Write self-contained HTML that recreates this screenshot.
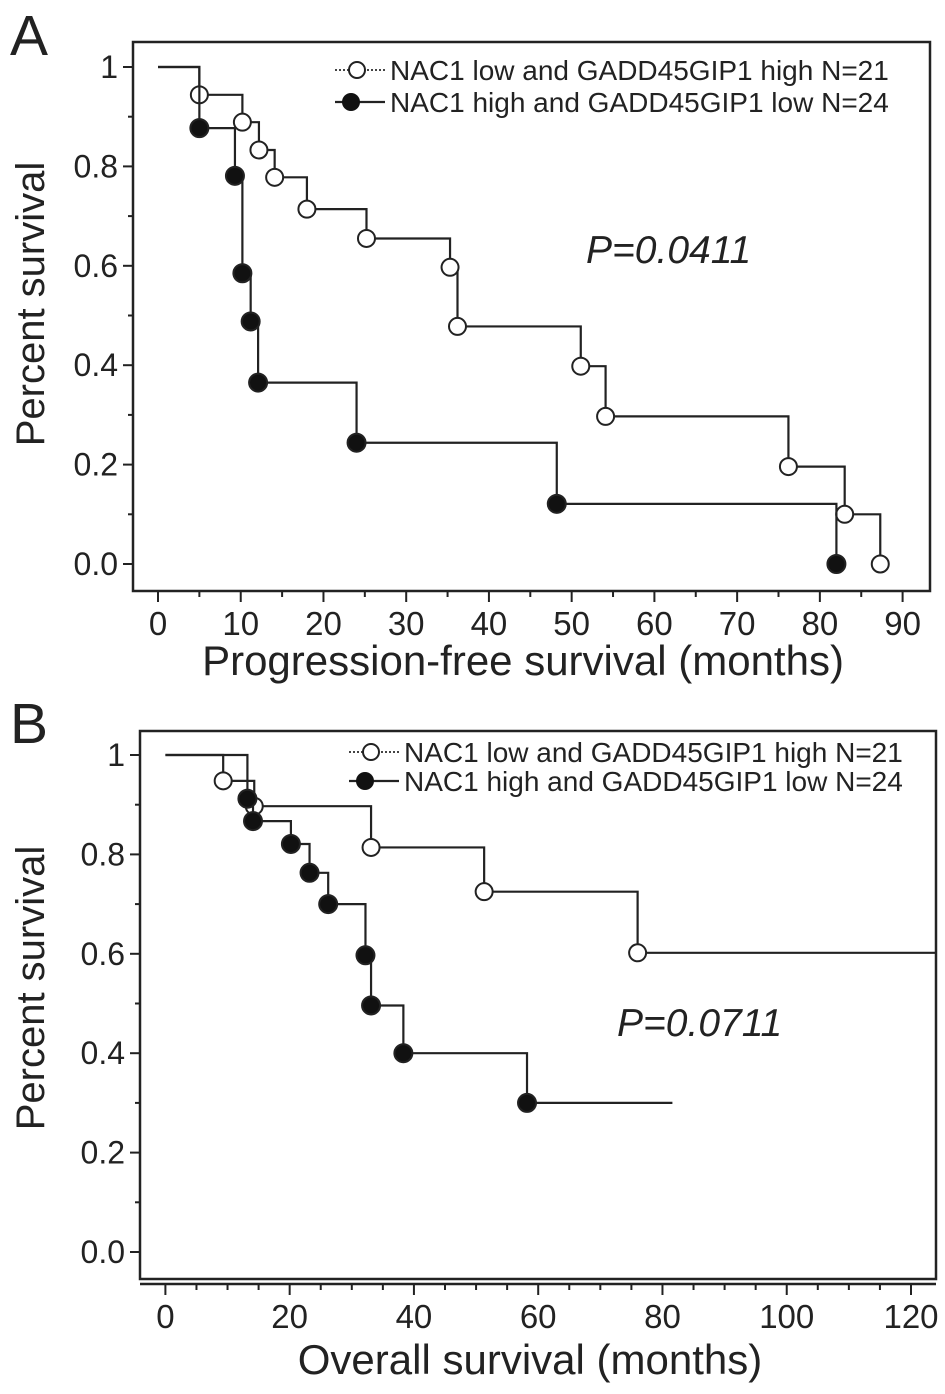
<!DOCTYPE html>
<html><head><meta charset="utf-8">
<style>
html,body{margin:0;padding:0;background:#fff;}
svg{display:block;}
text{font-family:"Liberation Sans",Arial,sans-serif;fill:#222;}
</style></head>
<body>
<svg id="fig" width="945" height="1394" viewBox="0 0 945 1394" xmlns="http://www.w3.org/2000/svg">
<text x="10" y="55" font-size="57">A</text>
<text x="10" y="743" font-size="57">B</text>
<g id="pa"></g>
<g id="pb"></g>
</svg>
<script>
// Panel A data (progression-free survival)
const aLowTimes = [5, 10.2, 12.2, 14.1, 18, 25.2, 35.3, 36.2, 51.1, 54.1, 76.2, 83, 87.3];
const aLowSurv  = [0.944, 0.889, 0.833, 0.778, 0.714, 0.655, 0.597, 0.478, 0.398, 0.297, 0.196, 0.1, 0];
const aHighTimes = [5, 9.3, 10.2, 11.2, 12.1, 24, 48.2, 82];
const aHighSurv  = [0.877, 0.781, 0.585, 0.488, 0.365, 0.244, 0.121, 0];
const aXTicks = [0,10,20,30,40,50,60,70,80,90];
// Panel B data (overall survival)
const bLowTimes = [9.3, 14.3, 33.1, 51.3, 76];
const bLowSurv  = [0.948, 0.897, 0.814, 0.725, 0.602];
const bLowEnd = 124;
const bHighTimes = [13.2, 14.1, 20.2, 23.2, 26.2, 32.2, 33.1, 38.3, 58.2];
const bHighSurv  = [0.912, 0.867, 0.821, 0.763, 0.7, 0.597, 0.496, 0.4, 0.3];
const bHighEnd = 81.6;
const bXTicks = [0,20,40,60,80,100,120];
const yTicks = [1, 0.8, 0.6, 0.4, 0.2, 0.0];
const yTickLabels = ["1","0.8","0.6","0.4","0.2","0.0"];

const NS="http://www.w3.org/2000/svg";
function mk(parent,tag,attrs,txt){const e=document.createElementNS(NS,tag);for(const k in attrs)e.setAttribute(k,attrs[k]);if(txt!==undefined)e.textContent=txt;parent.appendChild(e);return e;}

function panel(g,cfg){
  const X=v=>cfg.x0+v*(cfg.x1-cfg.x0)/cfg.xmax;
  const Y=v=>cfg.y0+(cfg.y1-cfg.y0)*v;
  let e=mk(g,'rect',{x:cfg.bl,y:cfg.bt,width:cfg.br-cfg.bl,height:cfg.bb-cfg.bt,fill:'none',stroke:'#222','stroke-width':2.5});
  
  if(cfg.axisY!==cfg.bb){e=mk(g,'line',{x1:cfg.bl,x2:cfg.br,y1:cfg.axisY,y2:cfg.axisY,stroke:'#222','stroke-width':2.5});
    }
  for(let i=0;i<=10;i++){const v=i/10;const major=i%2===0;
    e=mk(g,'line',{x1:cfg.bl-(major?10:5),x2:cfg.bl,y1:Y(v),y2:Y(v),stroke:'#222','stroke-width':2});
    }
  yTicks.forEach((v,i)=>{e=mk(g,'text',{x:cfg.bl-15,y:Y(v)+11,'font-size':32,'text-anchor':'end'},yTickLabels[i]);
    });
  for(let v=0;v<=cfg.xmax;v+=cfg.minor){const major=Math.abs(v/cfg.major-Math.round(v/cfg.major))<1e-6;
    if(X(v)>cfg.br)break;
    e=mk(g,'line',{x1:X(v),x2:X(v),y1:cfg.axisY,y2:cfg.axisY+(major?11:6),stroke:'#222','stroke-width':2});
    }
  cfg.xt.forEach(v=>{e=mk(g,'text',{x:X(v),y:cfg.axisY+44,'font-size':33,'text-anchor':'middle'},String(v));
    });
  e=mk(g,'text',{x:cfg.xtx,y:cfg.xty,'font-size':42,'text-anchor':'middle'},cfg.xtitle);
  
  e=mk(g,'text',{x:0,y:0,'font-size':40,'text-anchor':'middle',transform:`translate(44,${cfg.ytitleY}) rotate(-90)`},'Percent survival');
  
  function curve(times,surv,endT,filled,name){
    let d=`M${X(0)},${Y(1)}`;let prev=1;
    times.forEach((t,i)=>{d+=` L${X(t)},${Y(prev)} L${X(t)},${Y(surv[i])}`;prev=surv[i];});
    if(endT!==null)d+=` L${X(endT)},${Y(prev)}`;
    e=mk(g,'path',{d:d,fill:'none',stroke:'#222','stroke-width':2.2});
    
    times.forEach((t,i)=>{e=mk(g,'circle',{cx:X(t),cy:Y(surv[i]),r:filled?9:8.5,fill:filled?'#111':'#fff',stroke:'#222','stroke-width':2});
      });
  }
  curve(cfg.lowT,cfg.lowS,cfg.lowEnd,false,'low-nac1-curve');
  curve(cfg.highT,cfg.highS,cfg.highEnd,true,'high-nac1-curve');
  const lx=cfg.lx;
  e=mk(g,'line',{x1:lx,x2:lx+50,y1:cfg.ly1,y2:cfg.ly1,stroke:'#444','stroke-width':2,'stroke-dasharray':'2,2'});
  
  e=mk(g,'circle',{cx:lx+22,cy:cfg.ly1,r:8,fill:'#fff',stroke:'#222','stroke-width':2});
  
  e=mk(g,'text',{x:lx+55,y:cfg.ly1+10,'font-size':28},'NAC1 low and GADD45GIP1 high N=21');
  
  e=mk(g,'line',{x1:lx,x2:lx+50,y1:cfg.ly2,y2:cfg.ly2,stroke:'#222','stroke-width':2.2});
  
  e=mk(g,'circle',{cx:lx+16,cy:cfg.ly2,r:9,fill:'#111'});
  
  e=mk(g,'text',{x:lx+55,y:cfg.ly2+10,'font-size':28},'NAC1 high and GADD45GIP1 low N=24');
  
  e=mk(g,'text',{x:cfg.px,y:cfg.py,'font-size':39,'font-style':'italic'},cfg.ptext);
  
}
panel(document.getElementById('pa'),{x0:158,x1:902.6,xmax:90,y0:564,y1:67,bl:133,br:930,bt:42,bb:591,axisY:591,
  minor:5,major:10,xt:aXTicks,xtitle:'Progression-free survival (months)',xtx:523,xty:675,ytitleY:304,
  lowT:aLowTimes,lowS:aLowSurv,lowEnd:null,highT:aHighTimes,highS:aHighSurv,highEnd:null,
  lx:335,ly1:70,ly2:102,px:586,py:263,ptext:'P=0.0411'});
panel(document.getElementById('pb'),{x0:165.4,x1:911,xmax:120,y0:1252,y1:755,bl:140,br:936,bt:731,bb:1279,axisY:1284,
  minor:5,major:20,xt:bXTicks,xtitle:'Overall survival (months)',xtx:530,xty:1374,ytitleY:988,
  lowT:bLowTimes,lowS:bLowSurv,lowEnd:bLowEnd,highT:bHighTimes,highS:bHighSurv,highEnd:bHighEnd,
  lx:349,ly1:752,ly2:781,px:617,py:1036,ptext:'P=0.0711'});
</script>
</body></html>
